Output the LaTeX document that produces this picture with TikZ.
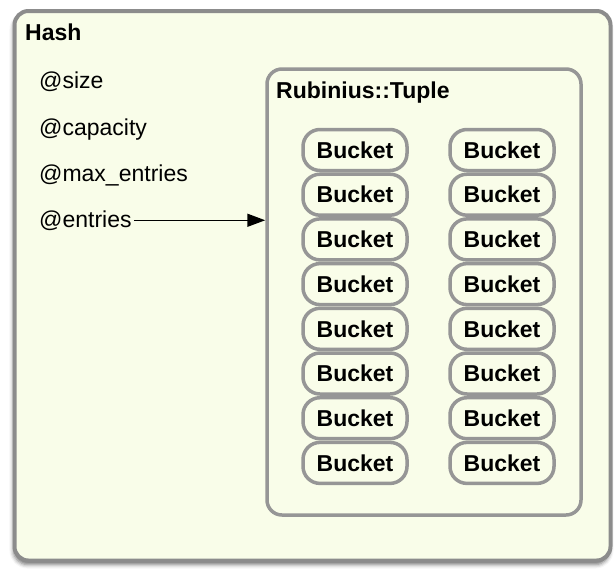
\documentclass[tikz,border=0pt]{standalone}
\usepackage{fontspec}
\setmainfont{Liberation Sans}
\definecolor{BoxFill}{RGB}{249,253,233}
\definecolor{BorderColor}{RGB}{150,150,150}
\definecolor{FrameColor}{RGB}{140,140,140}
\usetikzlibrary{positioning, arrows.meta, shadows.blur}
\tikzstyle{field} = [anchor=base west, inner sep=0pt, font=\fontsize{23}{27}\selectfont]
\tikzstyle{title} = [field, font=\fontsize{23}{27}\selectfont\bfseries]
\tikzstyle{bucket} = [draw=BorderColor, line width=3.5pt, fill=BoxFill, rounded corners=17pt, minimum width=104pt, minimum height=41pt, inner sep=0pt, font=\fontsize{23}{27}\selectfont\bfseries]
\tikzstyle{arrow} = [line width=1.5pt, black, -{Triangle[length=18pt, width=13pt]}]

\begin{document}
\begin{tikzpicture}[x=1pt, y=-1pt]
    \useasboundingbox (0,0) rectangle (615,571);

    % Hash object
    \draw[draw=FrameColor, line width=4pt, fill=BoxFill, rounded corners=14pt,
          blur shadow={shadow xshift=-1pt, shadow yshift=-4pt, shadow blur radius=4pt, shadow opacity=55}]
        (14.5,11) rectangle (610.5,560.5);
    \node[title] (hash) at (25,40.5) {Hash};

    % Instance variables
    \node[field] (size) at (39,88) {@size};
    \node[field] (capacity) at (39,135) {@capacity};
    \node[field] (maxentries) at (39,181.5) {@max\_entries};
    \node[field] (entries) at (39,227) {@entries};

    % Tuple
    \node[draw=BorderColor, line width=3.5pt, rounded corners=15pt, minimum width=314pt,
          minimum height=446pt] (tuple) at (424,292) {};
    \node[title] (tuplename) at (276,98) {Rubinius::Tuple};

    % Buckets
    \foreach \row in {0,...,7} {
        \node[bucket] (left\row) at (355,150+44.7*\row) {Bucket};
        \node[bucket] (right\row) at (502,150+44.7*\row) {Bucket};
    }

    % Entries pointer
    \draw[arrow] ([xshift=2pt]entries.east) -- (tuple.west |- entries.east);
\end{tikzpicture}
\end{document}
